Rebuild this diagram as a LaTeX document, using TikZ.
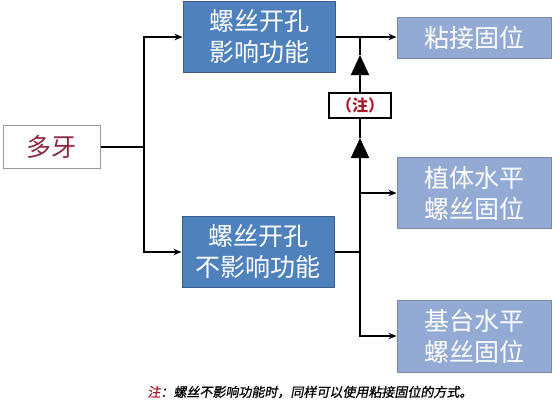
\documentclass[tikz,border=0pt]{standalone}
\usepackage{fontspec}
\usepackage{xcolor}
\usepackage{tikz}
\usetikzlibrary{arrows.meta, positioning, calc}
\newfontfamily\cjk{Noto Sans CJK SC}
\newfontfamily\cjkslant{Noto Sans CJK SC}[FakeSlant=0.18, FakeBold=0.8]
\definecolor{darkblue}{RGB}{79, 129, 189}
\definecolor{darkblueline}{RGB}{56, 93, 138}
\definecolor{paleblue}{RGB}{146, 170, 212}
\definecolor{palebluelne}{RGB}{120, 138, 170}
\definecolor{rootred}{RGB}{140, 40, 62}
\definecolor{notered}{RGB}{170, 25, 40}

\begin{document}
\begin{tikzpicture}[
    x=1pt, y=-1pt,
    every node/.style={font=\cjk\fontsize{25}{31}\selectfont, inner sep=0pt, align=center},
    rootbox/.style={rectangle, draw=black!40, line width=1pt, fill=white, text=rootred, minimum width=97pt, minimum height=43pt},
    holebox/.style={rectangle, draw=darkblueline, line width=1pt, fill=darkblue, text=white, minimum width=152pt, minimum height=71pt},
    fixbox/.style={rectangle, draw=palebluelne, line width=1pt, fill=paleblue, text=white, minimum width=154pt, minimum height=71pt},
    link/.style={draw=black, line width=1.8pt},
    arrow/.style={link, -{Stealth[length=8pt, width=6.5pt]}},
    bigarrow/.style={link, -{Triangle[length=20pt, width=18pt]}}
]
\useasboundingbox (0,0) rectangle (560,410);
% left side
\node[rootbox] (duoya) at (51.5,147) {多牙};
\node[holebox] (affect) at (259,37) {螺丝开孔\\影响功能};
\node[holebox] (noaffect) at (258,252) {螺丝开孔\\不影响功能};
% right side
\node[fixbox, minimum height=41pt] (glue) at (474,37.5) {粘接固位};
\node[fixbox] (implant) at (474,193) {植体水平\\螺丝固位};
\node[fixbox, minimum height=72pt] (abut) at (474,336) {基台水平\\螺丝固位};
\node[rectangle, draw=black, line width=1.4pt, fill=white, text=notered, minimum width=62pt, minimum height=25pt,
      font=\cjk\bfseries\fontsize{16}{18}\selectfont] (note) at (360,105.5) {（注）};
\node[font=\cjkslant\fontsize{13}{15}\selectfont] (footnote) at (310,392)
    {\textcolor{notered}{注}：螺丝不影响功能时，同样可以使用粘接固位的方式。};

\coordinate (split) at (144,147);
\coordinate (top) at (360,37);
\coordinate (bottom) at (360,252);
\coordinate (tipup) at (360,55);
\coordinate (tipdown) at (360,138);

\draw[link] (duoya.east) -- (split);
\draw[arrow] (split) |- (affect.west);
\draw[arrow] (split) |- (noaffect.west);
\draw[arrow] (affect.east) -- (affect.east -| glue.west);
\draw[link] (noaffect.east) -- (bottom);
\draw[arrow] (bottom) |- (implant.west);
\draw[arrow] (bottom) |- (abut.west);
\draw[bigarrow] (bottom) -- (tipdown);
\draw[link] (tipdown) -- (note.south);
\draw[bigarrow] (note.north) -- (tipup);
\draw[link] (tipup) -- (top);
\end{tikzpicture}
\end{document}
